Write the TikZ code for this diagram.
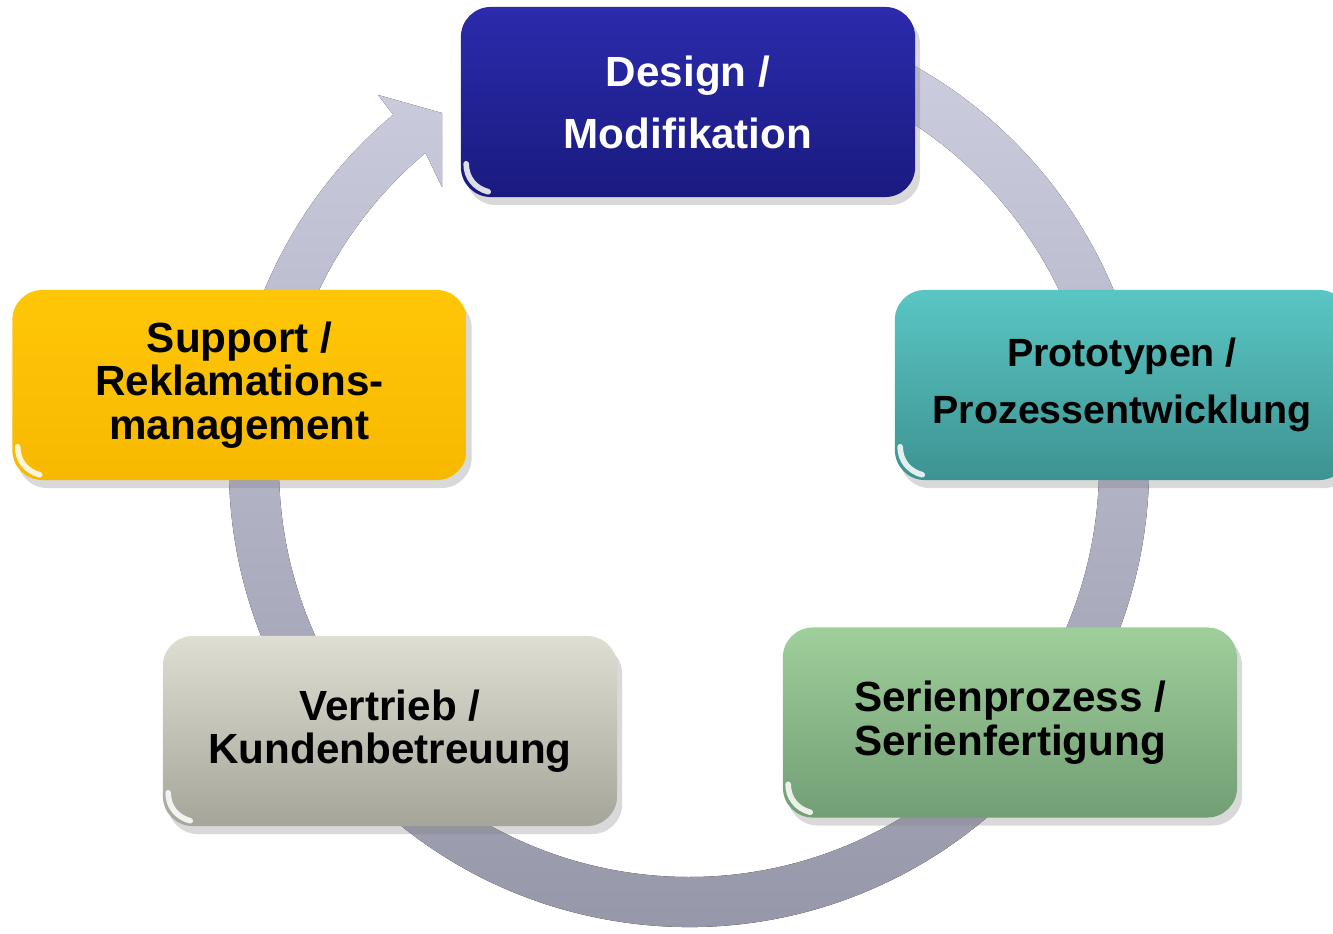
\documentclass[tikz,border=0pt]{standalone}
\usepackage{fontspec}
\setmainfont{Liberation Sans}
\usepackage{xcolor}
\usepackage{tikz}
\usetikzlibrary{positioning,shadows}
\definecolor{ringTop}{HTML}{CFCFE2}
\definecolor{ringBot}{HTML}{9595A8}
\definecolor{designA}{HTML}{2B2BAC}
\definecolor{designB}{HTML}{1A1A80}
\definecolor{protoA}{HTML}{5AC6C4}
\definecolor{protoB}{HTML}{3D9391}
\definecolor{serieA}{HTML}{9FCF9B}
\definecolor{serieB}{HTML}{729E74}
\definecolor{salesA}{HTML}{DEDED2}
\definecolor{salesB}{HTML}{A5A599}
\definecolor{suppA}{HTML}{FFC607}
\definecolor{suppB}{HTML}{F7B900}
\tikzset{
  phase/.style  ={rectangle, rounded corners=3mm, minimum width=4.54cm,
                  minimum height=1.9cm, inner sep=0pt, align=center,
                  drop shadow={opacity=0.3, shadow xshift=0.5mm, shadow yshift=-0.8mm}},
  bigtext/.style={font=\bfseries\fontsize{12}{17.6}\selectfont},
  midtext/.style={font=\bfseries\fontsize{11.2}{16.2}\selectfont},
  smalltext/.style={font=\bfseries\fontsize{12}{12.4}\selectfont},
  design/.style ={phase, top color=designA, bottom color=designB, text=white},
  proto/.style  ={phase, top color=protoA, bottom color=protoB},
  serie/.style  ={phase, top color=serieA, bottom color=serieB},
  sales/.style  ={phase, top color=salesA, bottom color=salesB},
  supp/.style   ={phase, top color=suppA, bottom color=suppB},
  % white sheen in the lower left corner of a box
  sheen/.style  ={draw=white, line width=1.6pt, line cap=round, opacity=0.85},
}
\newcommand{\phasesheen}[1]{%
  \draw[sheen] ([shift={(0.06cm,0.34cm)}]#1.south west)
    to[out=-90,in=165] ([shift={(0.28cm,0.06cm)}]#1.south west);}

\begin{document}
\begin{tikzpicture}[x=0.01cm,y=0.01cm]
\useasboundingbox (0,0) rectangle (1333,933);
% --- the ring arrow, running clockwise round the phases ---
\begin{scope}[shift={(689,466)}]
  \fill[top color=ringTop, bottom color=ringBot]
    (80:460) arc[start angle=80, end angle=-230, radius=460]
    -- (-311,372) -- (-247,354) -- (-247,280)
    -- (-230:410) arc[start angle=-230, end angle=80, radius=410] -- cycle;
\end{scope}
% --- phases ---
\node[design,bigtext] (design) at (688,831)    {Design /\\ Modifikation};
\node[proto,midtext]  (proto)  at (1122,548)   {Prototypen /\\ Prozessentwicklung};
\node[serie,smalltext](serie)  at (1010,210.5) {Serienprozess /\\ Serienfertigung};
\node[sales,smalltext](sales)  at (390,202)    {Vertrieb /\\ Kundenbetreuung};
\node[supp,smalltext] (supp)   at (239.5,548)  {Support /\\ Reklamations-\\ management};
\foreach \n in {design,proto,serie,sales,supp} {\phasesheen{\n}}
\end{tikzpicture}
\end{document}
